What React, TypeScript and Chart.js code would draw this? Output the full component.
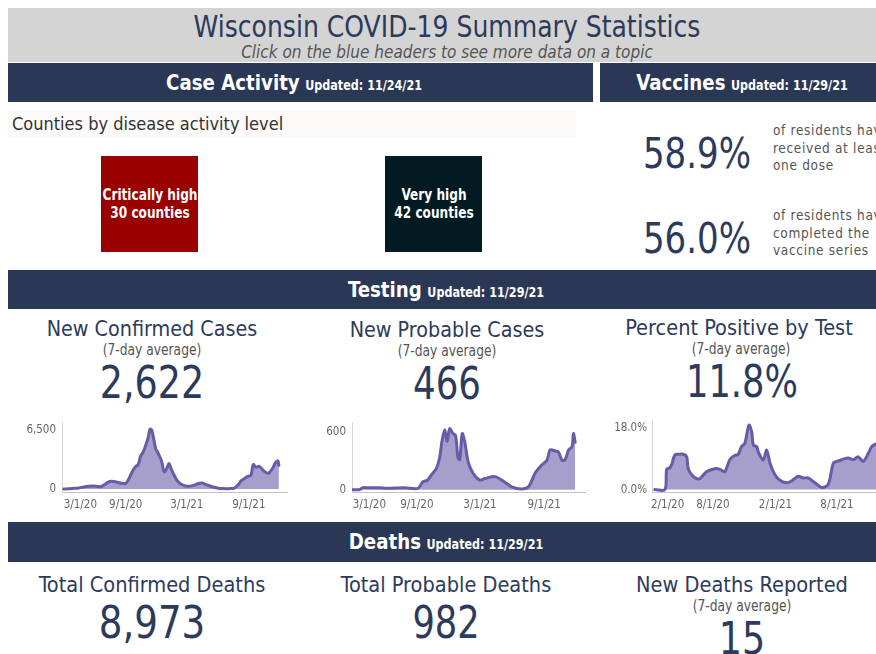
import React, { useEffect, useRef } from "react";
import { Chart, registerables } from "chart.js";
Chart.register(...registerables);

const FONT = "'Liberation Sans Narrow', 'DejaVu Sans Condensed', sans-serif";
const NAVY = "#2c3a5b";
const BAR_BG = "#2a3856";
const GRAY_TXT = "#555555";
const LINE = "#6a5ba8";
const FILL = "#a69fcc";

// ---------- New confirmed cases (7-day average) ----------
const confirmedDates = [
  "2020-03-01", "2020-03-16", "2020-03-31", "2020-04-15", "2020-04-30", "2020-05-15", "2020-05-29",
  "2020-06-09", "2020-06-18", "2020-06-29", "2020-07-11", "2020-07-21", "2020-08-03", "2020-08-17",
  "2020-08-31", "2020-09-07", "2020-09-15", "2020-09-23", "2020-09-30", "2020-10-08", "2020-10-15",
  "2020-10-23", "2020-10-30", "2020-11-06", "2020-11-12", "2020-11-17", "2020-11-23", "2020-11-29",
  "2020-12-04", "2020-12-09", "2020-12-16", "2020-12-24", "2020-12-31", "2021-01-07", "2021-01-13",
  "2021-01-20", "2021-02-01", "2021-02-14", "2021-03-03", "2021-03-21", "2021-04-05", "2021-04-15",
  "2021-04-30", "2021-05-15", "2021-05-30", "2021-06-14", "2021-07-04", "2021-07-20", "2021-08-01",
  "2021-08-09", "2021-08-19", "2021-08-29", "2021-09-07", "2021-09-14", "2021-09-22", "2021-10-02",
  "2021-10-12", "2021-10-22", "2021-10-30", "2021-11-09", "2021-11-19", "2021-11-26", "2021-11-29",
];
const confirmedValues = [
  0, 15, 70, 120, 230, 300, 330,
  280, 250, 450, 750, 850, 780, 650,
  600, 900, 1500, 2100, 2450, 2700, 3600,
  4100, 4800, 5600, 6600, 6500, 5500, 4400,
  4100, 3700, 3100, 1900, 2200, 2800, 2300,
  1700, 900, 500, 300, 400, 600, 650,
  450, 250, 120, 50, 40, 100, 500,
  900, 1150, 1400, 1500, 2700, 2400, 2500,
  2100, 1800, 1750, 2200, 2900, 3100, 2600,
];
const confirmedYTicks = [0, 6500];
const confirmedYLabels = ["0", "6,500"];

// ---------- New probable cases (7-day average) ----------
const probableDates = [
  "2020-03-01", "2020-03-20", "2020-03-30", "2020-04-13", "2020-05-16", "2020-06-09", "2020-07-27",
  "2020-09-04", "2020-09-18", "2020-10-02", "2020-10-12", "2020-10-27", "2020-11-05", "2020-11-12",
  "2020-11-20", "2020-11-27", "2020-12-04", "2020-12-14", "2020-12-21", "2020-12-28", "2021-01-02",
  "2021-01-09", "2021-01-16", "2021-01-26", "2021-02-09", "2021-02-28", "2021-03-15", "2021-04-13",
  "2021-05-02", "2021-05-31", "2021-06-28", "2021-07-18", "2021-08-06", "2021-08-25", "2021-09-09",
  "2021-09-18", "2021-10-03", "2021-10-12", "2021-10-22", "2021-10-31", "2021-11-10", "2021-11-20",
  "2021-11-24", "2021-11-29",
];
const probableValues = [
  0, 0, 20, 20, 20, 14, 20,
  14, 80, 100, 150, 220, 325, 500,
  620, 500, 630, 580, 560, 330, 310,
  580, 500, 290, 170, 100, 115, 135,
  100, 30, 7, 30, 170, 255, 305,
  410, 400, 390, 305, 310, 410, 445,
  580, 490,
];
const probableYTicks = [0, 600];
const probableYLabels = ["0", "600"];

// ---------- Percent positive by test (7-day average) ----------
const percentDates = [
  "2020-02-12", "2020-03-13", "2020-03-18", "2020-03-28", "2020-04-02", "2020-04-11", "2020-04-21",
  "2020-05-06", "2020-05-16", "2020-05-20", "2020-05-30", "2020-06-14", "2020-06-24", "2020-07-13",
  "2020-08-07", "2020-08-22", "2020-09-05", "2020-09-20", "2020-10-05", "2020-10-14", "2020-10-24",
  "2020-11-03", "2020-11-15", "2020-11-23", "2020-11-28", "2020-12-08", "2020-12-12", "2020-12-27",
  "2021-01-06", "2021-01-16", "2021-01-30", "2021-02-14", "2021-03-06", "2021-03-20", "2021-04-09",
  "2021-04-24", "2021-05-08", "2021-05-28", "2021-06-17", "2021-07-06", "2021-07-21", "2021-07-31",
  "2021-08-15", "2021-09-03", "2021-09-18", "2021-10-02", "2021-10-17", "2021-11-01", "2021-11-11",
  "2021-11-20", "2021-11-28",
];
const percentValues = [
  0, 0, 5.9, 6.4, 7.3, 10.1, 10.3,
  10.3, 9.6, 6.3, 4.4, 3.2, 3.2, 5.2,
  6.1, 5.9, 5.2, 8.8, 10.0, 10.2, 12.5,
  13.5, 18.8, 16.9, 13.0, 12.5, 11.1, 8.6,
  11.5, 7.7, 4.4, 2.7, 2.0, 2.5, 3.9,
  3.4, 3.4, 2.0, 0.6, 1.5, 7.7, 8.2,
  8.7, 9.2, 8.7, 9.6, 8.2, 10.6, 12.5,
  13.2, 13.3,
];
const percentYTicks = [0, 18];
const percentYLabels = ["0.0%", "18.0%"];

const xTickDates6 = ["2020-03-01", "2020-09-01", "2021-03-01", "2021-09-01"];
const xTickLabels6 = ["3/1/20", "9/1/20", "3/1/21", "9/1/21"];
const pctTickDates = ["2020-02-01", "2020-08-01", "2021-02-01", "2021-08-01"];
const pctTickLabels = ["2/1/20", "8/1/20", "2/1/21", "8/1/21"];

const dayOf = (s: string) => {
  const [y, m, d] = s.split("-").map(Number);
  return (Date.UTC(y, m - 1, d) - Date.UTC(2020, 0, 1)) / 86400000;
};

type SparkProps = {
  left: number; top: number; yAxisW: number; plotW: number; plotH: number; xAxisH: number;
  dates: string[]; values: number[]; xMin: string; xMax: string; yMin: number; yMax: number;
  yTicks: number[]; yLabels: string[]; xTickDates: string[]; xTickLabels: string[]; yPad: number; xPad: number;
};

function Spark(p: SparkProps) {
  const ref = useRef<HTMLCanvasElement | null>(null);
  const W = p.yAxisW + p.plotW;
  const H = p.plotH + p.xAxisH;
  useEffect(() => {
    if (!ref.current) return;
    const pts = p.dates.map((d, i) => ({ x: dayOf(d), y: p.values[i] }));
    const tickDays = p.xTickDates.map(dayOf);
    const xMaxD = dayOf(p.xMax);
    const xMinD = dayOf(p.xMin);
    const xLab: Record<number, string> = {};
    tickDays.forEach((v, i) => (xLab[v] = p.xTickLabels[i]));
    const yLab: Record<number, string> = {};
    p.yTicks.forEach((v, i) => (yLab[v] = p.yLabels[i]));
    const tickFont = { family: FONT, size: 11.5 };
    const chart = new Chart(ref.current, {
      type: "line",
      data: {
        datasets: [
          {
            data: pts,
            borderColor: LINE,
            backgroundColor: FILL,
            fill: "origin",
            borderWidth: 3,
            pointRadius: 0,
            tension: 0.3,
            borderJoinStyle: "round",
            borderCapStyle: "round",
          },
        ],
      },
      options: {
        animation: false,
        responsive: false,
        maintainAspectRatio: false,
        layout: { padding: 0 },
        plugins: { legend: { display: false }, tooltip: { enabled: false } },
        scales: {
          x: {
            type: "linear",
            min: xMinD,
            max: xMaxD,
            grid: { display: false, drawTicks: false },
            border: { display: true, color: "#c4c4c4", width: 1 },
            ticks: {
              autoSkip: false,
              maxRotation: 0,
              align: "inner",
              padding: p.xPad,
              color: "#666666",
              font: tickFont,
              callback: (v: any) => xLab[v as number] ?? "",
            },
            afterBuildTicks: (s: any) => {
              s.ticks = [...tickDays.map((v) => ({ value: v })), { value: xMaxD }];
            },
            afterFit: (s: any) => {
              s.height = p.xAxisH;
              s.paddingLeft = 0; s.paddingRight = 0; s.paddingTop = 0; s.paddingBottom = 0;
            },
          },
          y: {
            type: "linear",
            min: p.yMin,
            max: p.yMax,
            grid: { display: false, drawTicks: false },
            border: { display: true, color: "#d6d6d6", width: 1 },
            ticks: {
              padding: p.yPad,
              color: "#666666",
              font: tickFont,
              callback: (v: any) => yLab[v as number] ?? "",
            },
            afterBuildTicks: (s: any) => {
              s.ticks = p.yTicks.map((v) => ({ value: v }));
            },
            afterFit: (s: any) => {
              s.width = p.yAxisW;
              s.paddingLeft = 0; s.paddingRight = 0; s.paddingTop = 0; s.paddingBottom = 0;
            },
          },
        },
      } as any,
    });
    return () => chart.destroy();
  }, []);
  return (
    <canvas
      ref={ref}
      width={W}
      height={H}
      style={{ position: "absolute", left: p.left, top: p.top, width: W, height: H }}
    />
  );
}

type TProps = {
  cx?: number; x?: number; cy: number; size: number; color?: string; weight?: number | string;
  italic?: boolean; ls?: string; sx?: number; children: React.ReactNode;
};
function T({ cx, x, cy, size, color = NAVY, weight = 400, italic = false, ls = "0", sx = 1, children }: TProps) {
  const style: React.CSSProperties = {
    position: "absolute",
    top: cy - size * 0.485,
    height: size,
    lineHeight: `${size}px`,
    fontSize: size,
    color,
    fontWeight: weight as any,
    fontStyle: italic ? "italic" : "normal",
    letterSpacing: ls,
    whiteSpace: "nowrap",
    transform: sx !== 1 ? `scaleX(${sx})` : undefined,
  };
  if (cx !== undefined) {
    style.left = cx - 300;
    style.width = 600;
    style.textAlign = "center";
    style.transformOrigin = "50% 50%";
  } else {
    style.left = x;
    style.transformOrigin = "0% 50%";
  }
  return <div style={style}>{children}</div>;
}

function Bar({ x, y, w, h, cx, title, updated }: { x: number; y: number; w: number; h: number; cx: number; title: string; updated: string }) {
  return (
    <>
      <div style={{ position: "absolute", left: x, top: y, width: w, height: h, background: BAR_BG }} />
      <div
        style={{
          position: "absolute",
          left: cx - 300,
          width: 600,
          top: y + h / 2 - 14,
          lineHeight: "28px",
          textAlign: "center",
          color: "#ffffff",
          fontWeight: 700,
          whiteSpace: "nowrap",
          transform: "scaleX(0.92)",
          transformOrigin: "50% 50%",
        }}
      >
        <span style={{ fontSize: 22 }}>{title}</span>
        <span style={{ fontSize: 13.5, marginLeft: 6 }}>{updated}</span>
      </div>
    </>
  );
}

export default function App() {
  return (
    <div style={{ position: "relative", width: 876, height: 654, overflow: "hidden", fontFamily: FONT, background: "#ffffff" }}>
      <style>{"html,body{margin:0;padding:0;overflow:hidden;}"}</style>

      {/* Title band */}
      <div style={{ position: "absolute", left: 8, top: 8, width: 878, height: 54, background: "#d4d4d4" }} />
      <T cx={447} cy={27} size={30} sx={0.93}>Wisconsin COVID-19 Summary Statistics</T>
      <T cx={447} cy={52} size={17} italic color={GRAY_TXT}>Click on the blue headers to see more data on a topic</T>

      {/* Case activity */}
      <Bar x={8} y={63} w={585} h={39} cx={294} title="Case Activity" updated="Updated: 11/24/21" />
      <Bar x={600} y={63} w={286} h={39} cx={742} title="Vaccines" updated="Updated: 11/29/21" />

      <div style={{ position: "absolute", left: 8, top: 110, width: 568, height: 28, background: "#fbfaf8" }} />
      <T x={12} cy={124} size={18} color="#333333">Counties by disease activity level</T>

      <div style={{ position: "absolute", left: 101, top: 156, width: 97, height: 96, background: "#990000" }} />
      <T cx={150} cy={195} size={15} color="#ffffff" weight={700} sx={0.9}>Critically high</T>
      <T cx={150} cy={213} size={15} color="#ffffff" weight={700} sx={0.9}>30 counties</T>

      <div style={{ position: "absolute", left: 385, top: 156, width: 97, height: 96, background: "#021a22" }} />
      <T cx={434} cy={195} size={15} color="#ffffff" weight={700} sx={0.9}>Very high</T>
      <T cx={434} cy={213} size={15} color="#ffffff" weight={700} sx={0.9}>42 counties</T>

      {/* Vaccines */}
      <T cx={697} cy={153} size={42} sx={0.9}>58.9%</T>
      <T x={773} cy={131} size={13.5} color={GRAY_TXT} ls="0.05em">of residents have</T>
      <T x={773} cy={149} size={13.5} color={GRAY_TXT} ls="0.05em">received at least</T>
      <T x={773} cy={166} size={13.5} color={GRAY_TXT} ls="0.05em">one dose</T>

      <T cx={697} cy={238} size={42} sx={0.9}>56.0%</T>
      <T x={773} cy={216} size={13.5} color={GRAY_TXT} ls="0.05em">of residents have</T>
      <T x={773} cy={234} size={13.5} color={GRAY_TXT} ls="0.05em">completed the</T>
      <T x={773} cy={251} size={13.5} color={GRAY_TXT} ls="0.05em">vaccine series</T>

      {/* Testing */}
      <Bar x={8} y={270} w={878} h={39} cx={446} title="Testing" updated="Updated: 11/29/21" />

      <T cx={152} cy={329} size={22} sx={0.97}>New Confirmed Cases</T>
      <T cx={152} cy={350} size={15} color={GRAY_TXT} sx={0.91}>(7-day average)</T>
      <T cx={152} cy={382} size={45} sx={0.9}>2,622</T>

      <T cx={447} cy={330} size={22} sx={0.97}>New Probable Cases</T>
      <T cx={447} cy={351} size={15} color={GRAY_TXT} sx={0.91}>(7-day average)</T>
      <T cx={447} cy={383} size={45} sx={0.88}>466</T>

      <T cx={739} cy={328} size={22} sx={0.98}>Percent Positive by Test</T>
      <T cx={741} cy={349} size={15} color={GRAY_TXT} sx={0.91}>(7-day average)</T>
      <T cx={742} cy={381} size={45} sx={0.87}>11.8%</T>

      <Spark
        left={20} top={422} yAxisW={42} plotW={226} plotH={70} xAxisH={24}
        dates={confirmedDates} values={confirmedValues}
        xMin="2020-02-25" xMax="2021-12-26" yMin={-330} yMax={7380}
        yTicks={confirmedYTicks} yLabels={confirmedYLabels}
        xTickDates={xTickDates6} xTickLabels={xTickLabels6} yPad={6} xPad={6}
      />
      <Spark
        left={320} top={422} yAxisW={32} plotW={234} plotH={70} xAxisH={24}
        dates={probableDates} values={probableValues}
        xMin="2020-02-28" xMax="2021-12-30" yMin={-24} yMax={700}
        yTicks={probableYTicks} yLabels={probableYLabels}
        xTickDates={xTickDates6} xTickLabels={xTickLabels6} yPad={6} xPad={6}
      />
      <Spark
        left={612} top={421} yAxisW={40} plotW={234} plotH={71} xAxisH={24}
        dates={percentDates} values={percentValues}
        xMin="2020-02-04" xMax="2021-12-23" yMin={-0.7} yMax={20}
        yTicks={percentYTicks} yLabels={percentYLabels}
        xTickDates={pctTickDates} xTickLabels={pctTickLabels} yPad={5} xPad={6}
      />

      {/* Deaths */}
      <Bar x={8} y={522} w={878} h={40} cx={446} title="Deaths" updated="Updated: 11/29/21" />

      <T cx={152} cy={585} size={22} sx={0.98}>Total Confirmed Deaths</T>
      <T cx={152} cy={622} size={45} sx={0.92}>8,973</T>

      <T cx={446} cy={585} size={22} sx={0.98}>Total Probable Deaths</T>
      <T cx={446} cy={622} size={45} sx={0.87}>982</T>

      <T cx={742} cy={585} size={22} sx={0.98}>New Deaths Reported</T>
      <T cx={742} cy={606} size={15} color={GRAY_TXT} sx={0.91}>(7-day average)</T>
      <T cx={742} cy={638} size={45} sx={0.9}>15</T>
    </div>
  );
}
